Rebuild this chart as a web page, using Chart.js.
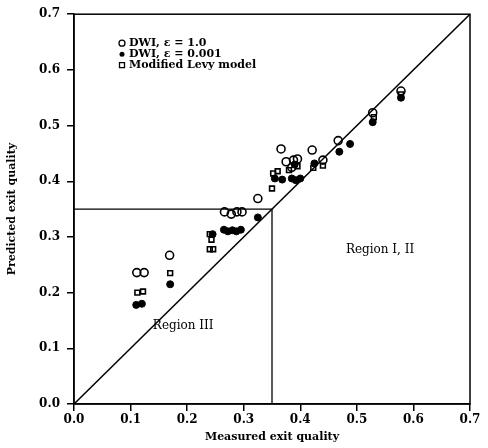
<!DOCTYPE html>
<html>
<head>
<meta charset="utf-8">
<script src="https://cdn.jsdelivr.net/npm/chart.js@4.4.1/dist/chart.umd.min.js"></script>
<style>
  body { margin: 0; background: #fff; }
  canvas { display: block; }
</style>
</head>
<body>
<canvas id="chart1" width="488" height="448"></canvas>
<script>
'use strict';
// DWI, eps = 1.0 (open circles)
var dwiOpen = [
	[0.111, 0.236], [0.124, 0.236], [0.169, 0.267],
	[0.266, 0.345], [0.278, 0.341], [0.288, 0.345], [0.297, 0.345],
	[0.325, 0.369], [0.366, 0.458], [0.421, 0.456],
	[0.375, 0.435], [0.388, 0.438], [0.395, 0.440], [0.385, 0.425],
	[0.440, 0.438], [0.467, 0.473], [0.528, 0.523], [0.578, 0.562]
];
// DWI, eps = 0.001 (filled circles)
var dwiFilled = [
	[0.110, 0.178], [0.120, 0.180], [0.170, 0.215],
	[0.245, 0.305], [0.265, 0.313], [0.272, 0.310], [0.280, 0.312],
	[0.287, 0.310], [0.295, 0.313], [0.325, 0.335],
	[0.355, 0.405], [0.368, 0.403], [0.385, 0.405], [0.392, 0.402],
	[0.400, 0.405], [0.390, 0.430], [0.425, 0.432],
	[0.469, 0.453], [0.488, 0.467], [0.528, 0.506], [0.578, 0.550]
];
// Modified Levy model (open squares)
var levy = [
	[0.112, 0.200], [0.122, 0.202], [0.170, 0.235],
	[0.240, 0.305], [0.243, 0.295], [0.240, 0.278], [0.246, 0.278],
	[0.350, 0.387], [0.352, 0.414], [0.360, 0.418], [0.380, 0.420],
	[0.395, 0.427], [0.423, 0.424], [0.440, 0.428],
	[0.530, 0.515], [0.578, 0.556]
];
var diagonal = [[0, 0], [0.7, 0.7]];
var regionBox = [[0, 0.35], [0.35, 0.35], [0.35, 0]];
var tickValues = [0, 0.1, 0.2, 0.3, 0.4, 0.5, 0.6, 0.7];
var legendLabels = ['DWI, \u03b5 = 1.0', 'DWI, \u03b5 = 0.001', 'Modified Levy model'];
var regionLabels = [
	{ text: 'Region I, II', x: 0.541, y: 0.276 },
	{ text: 'Region III', x: 0.193, y: 0.14 }
];

var toXY = function (arr) {
	return arr.map(function (p) { return { x: p[0], y: p[1] }; });
};

var FONT = '"DejaVu Serif", serif';

var framePlugin = {
	id: 'frame',
	afterDraw: function (chart) {
		var ctx = chart.ctx, a = chart.chartArea;
		var xs = chart.scales.x, ys = chart.scales.y;
		ctx.save();
		ctx.strokeStyle = '#000';
		ctx.lineWidth = 1.5;
		ctx.strokeRect(a.left, a.top, a.right - a.left, a.bottom - a.top);

		// region labels
		ctx.fillStyle = '#000';
		ctx.font = '12px ' + FONT;
		ctx.textAlign = 'center';
		ctx.textBaseline = 'middle';
		regionLabels.forEach(function (r) {
			ctx.fillText(r.text, xs.getPixelForValue(r.x), ys.getPixelForValue(r.y));
		});

		// legend inside plot
		var lx = a.left + 48, ly = a.top + 29;
		ctx.font = 'bold 11px ' + FONT;
		ctx.textAlign = 'left';
		ctx.lineWidth = 1.3;
		for (var i = 0; i < legendLabels.length; i++) {
			var y = ly + i * 11;
			ctx.beginPath();
			if (i === 0) {
				ctx.arc(lx, y, 3, 0, Math.PI * 2);
				ctx.stroke();
			} else if (i === 1) {
				ctx.arc(lx, y, 2.5, 0, Math.PI * 2);
				ctx.fill();
			} else {
				ctx.rect(lx - 2.5, y - 2.5, 5, 5);
				ctx.stroke();
			}
			ctx.fillText(legendLabels[i], lx + 7, y);
		}
		ctx.restore();
	}
};

var ctx = document.getElementById('chart1').getContext('2d');
var myChart = new Chart(ctx, {
	type: 'scatter',
	data: {
		datasets: [{
			label: legendLabels[0],
			data: toXY(dwiOpen),
			pointStyle: 'circle',
			pointRadius: 4,
			borderWidth: 1.6,
			borderColor: '#000',
			backgroundColor: 'rgba(255,255,255,0)'
		}, {
			label: legendLabels[1],
			data: toXY(dwiFilled),
			pointStyle: 'circle',
			pointRadius: 3.5,
			borderWidth: 1,
			borderColor: '#000',
			backgroundColor: '#000'
		}, {
			label: legendLabels[2],
			data: toXY(levy),
			pointStyle: 'rect',
			pointRadius: 3.4,
			borderWidth: 1.6,
			borderColor: '#000',
			backgroundColor: 'rgba(255,255,255,0)'
		}, {
			label: 'diagonal',
			data: toXY(diagonal),
			showLine: true,
			pointRadius: 0,
			borderWidth: 1.5,
			borderColor: '#000'
		}, {
			label: 'region',
			data: toXY(regionBox),
			showLine: true,
			pointRadius: 0,
			borderWidth: 1.3,
			borderColor: '#000'
		}]
	},
	options: {
		responsive: false,
		animation: false,
		layout: { padding: { left: 6, right: 18, top: 13, bottom: 4 } },
		plugins: {
			legend: { display: false },
			tooltip: { enabled: false }
		},
		scales: {
			x: {
				type: 'linear',
				min: 0,
				max: 0.7,
				afterBuildTicks: function (scale) {
					scale.ticks = tickValues.map(function (v) { return { value: v }; });
				},
				afterFit: function (scale) { scale.height = 40; },
				border: { color: '#000', width: 1.5 },
				grid: { drawOnChartArea: false, drawTicks: true, tickLength: 7, color: '#000', lineWidth: 1.5 },
				ticks: {
					color: '#000',
					padding: 2,
					maxRotation: 0,
					font: { family: FONT, size: 12, weight: 'bold' },
					callback: function (v) { return v.toFixed(1); }
				},
				title: {
					display: true,
					text: 'Measured exit quality',
					color: '#000',
					padding: 0,
					font: { family: FONT, size: 11, weight: 'bold' }
				}
			},
			y: {
				type: 'linear',
				min: 0,
				max: 0.7,
				afterBuildTicks: function (scale) {
					scale.ticks = tickValues.map(function (v) { return { value: v }; });
				},
				afterFit: function (scale) { scale.width = 68; },
				border: { color: '#000', width: 1.5 },
				grid: { drawOnChartArea: false, drawTicks: true, tickLength: 7, color: '#000', lineWidth: 1.5 },
				ticks: {
					color: '#000',
					padding: 7,
					font: { family: FONT, size: 12, weight: 'bold' },
					callback: function (v) { return v.toFixed(1); }
				},
				title: {
					display: true,
					text: 'Predicted exit quality',
					color: '#000',
					padding: 0,
					font: { family: FONT, size: 11, weight: 'bold' }
				}
			}
		}
	},
	plugins: [framePlugin]
});
</script>
</body>
</html>
